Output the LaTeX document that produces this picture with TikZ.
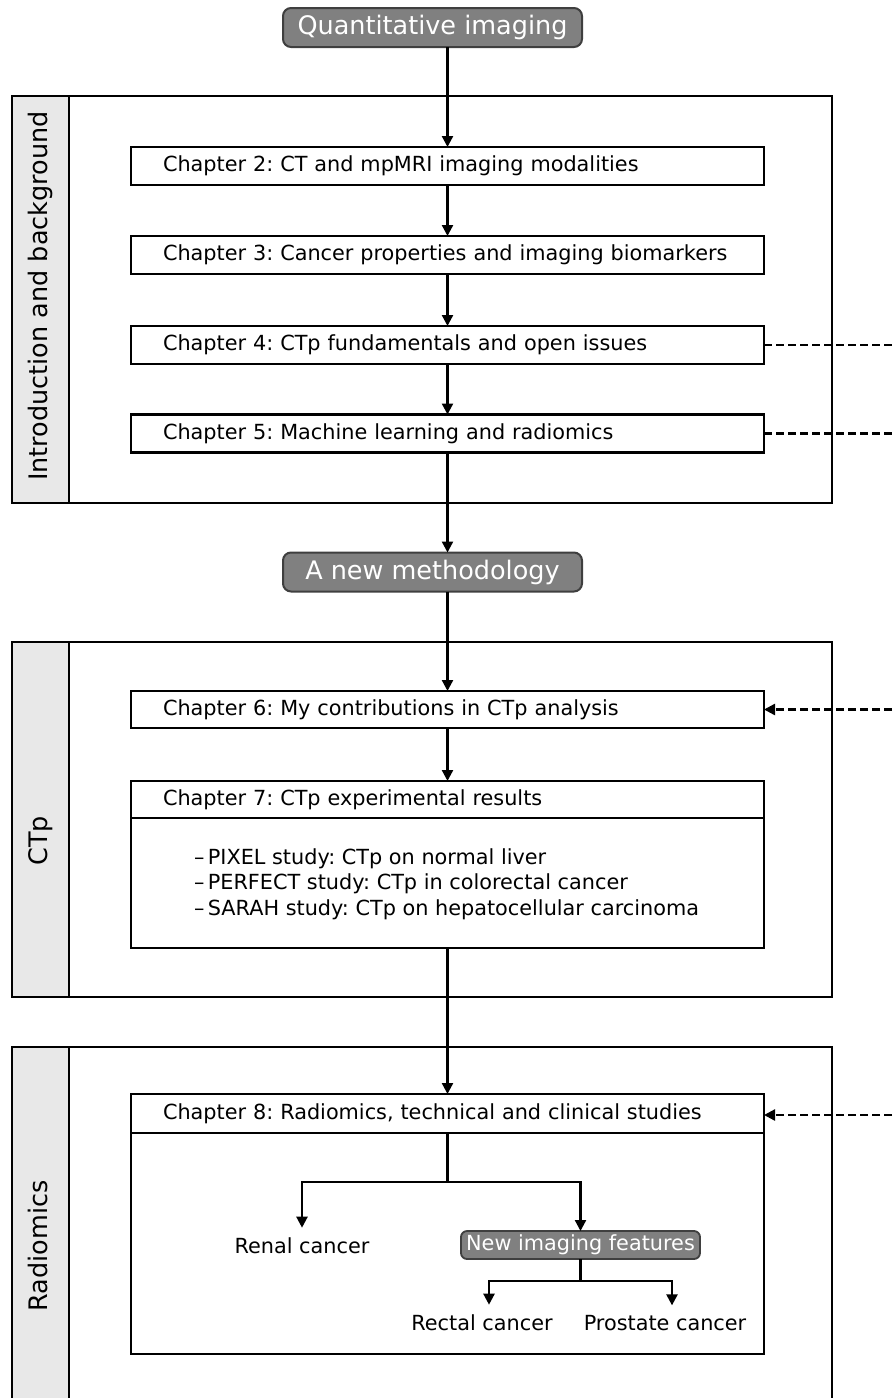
\documentclass[tikz,border=0pt]{standalone}
\usepackage{fontspec}
\setmainfont{DejaVu Sans}
\usetikzlibrary{arrows.meta,calc}
\definecolor{tgray}{HTML}{808080}
\definecolor{tborder}{HTML}{3F3F3F}
\definecolor{stripfill}{HTML}{E8E8E8}
\newcommand{\bigfont}{\fontsize{25.5}{30}\selectfont}
\newcommand{\chfont}{\fontsize{20.8}{25.5}\selectfont\frenchspacing\hyphenpenalty=10000}
\begin{document}
\begin{tikzpicture}[x=1pt,y=-1pt,
  every node/.style={inner sep=0pt,outer sep=0pt},
  secbox/.style={draw,line width=2.3pt,fill=white,anchor=north west,minimum width=820pt},
  stripbox/.style={draw,line width=2.3pt,fill=stripfill,anchor=north west,minimum width=57pt},
  seclabel/.style={rotate=90,anchor=base,font=\bigfont},
  titlebox/.style={draw=tborder,line width=2pt,fill=tgray,rounded corners=8pt,text=white,font=\bigfont,minimum width=299pt,minimum height=39pt},
  chap/.style={draw,line width=2.3pt,fill=white,anchor=north west,text width=569pt,inner xsep=32pt,align=left,font=\chfont,text height=16pt,text depth=5pt,minimum height=38pt},
  bodybox/.style={draw,line width=2.3pt,fill=white,anchor=north west,minimum width=633pt},
  leaf/.style={font=\chfont,anchor=base,inner ysep=9.5pt},
  itemtext/.style={font=\chfont,anchor=base west},
  smallbox/.style={draw=tborder,line width=1.8pt,fill=tgray,rounded corners=6pt,text=white,font=\chfont,minimum width=239pt,minimum height=28pt},
  arr/.style={line width=2.3pt,-{Triangle[length=11pt,width=11pt]}},
  plain/.style={line width=2.3pt},
  dashline/.style={line width=2.3pt,dash pattern=on 8pt off 4pt},
  dasharr/.style={line width=2.3pt,dash pattern=on 8pt off 4pt,-{Triangle[length=11pt,width=11pt]}}
]
\useasboundingbox (0,0) rectangle (892,1398);
\clip (0,0) rectangle (892,1398);
\coordinate (redge) at (892,0);

% sections
\node[secbox,minimum height=407pt] (sec1) at (12,96) {};
\node[stripbox,minimum height=407pt] (strip1) at (12,96) {};
\node[seclabel] (lab1) at (47,296) {Introduction and background};

\node[secbox,minimum height=355pt] (sec2) at (12,642) {};
\node[stripbox,minimum height=355pt] (strip2) at (12,642) {};
\node[seclabel] (lab2) at (47,841) {CTp};

\node[secbox,minimum height=420pt] (sec3) at (12,1047) {};
\node[stripbox,minimum height=420pt] (strip3) at (12,1047) {};
\node[seclabel] (lab3) at (47,1246) {Radiomics};

% titles
\node[titlebox] (qi) at (432.5,27.5) {Quantitative imaging};
\node[titlebox] (nm) at (432.5,572) {A new methodology};

% chapters
\node[chap] (ch2) at (131,147) {Chapter 2: CT and mpMRI imaging modalities};
\node[chap] (ch3) at (131,236) {Chapter 3: Cancer properties and imaging biomarkers};
\node[chap] (ch4) at (131,326) {Chapter 4: CTp fundamentals and open issues};
\node[chap] (ch5) at (131,414.5) {Chapter 5: Machine learning and radiomics};
\node[chap,minimum height=37pt] (ch6) at (131,691) {Chapter 6: My contributions in CTp analysis};

\node[bodybox,minimum height=130pt] (ch7b) at (131,818) {};
\node[chap,minimum height=37pt] (ch7h) at (131,781) {Chapter 7: CTp experimental results};
\node[itemtext] (i1) at (194,864) {–\,PIXEL study: CTp on normal liver};
\node[itemtext] (i2) at (194,889.5) {–\,PERFECT study: CTp in colorectal cancer};
\node[itemtext] (i3) at (194,915) {–\,SARAH study: CTp on hepatocellular carcinoma};

\node[bodybox,minimum height=221pt] (ch8b) at (131,1133) {};
\node[chap,minimum height=39pt] (ch8h) at (131,1094) {Chapter 8: Radiomics, technical and clinical studies};

\node[leaf] (renal) at (302,1253) {Renal cancer};
\node[smallbox] (nif) at (580.5,1245) {New imaging features};
\node[leaf] (rectal) at (482,1330) {Rectal cancer};
\node[leaf] (prostate) at (665,1330) {Prostate cancer};

% main flow
\draw[arr] (ch2.north |- qi.south) -- (ch2.north);
\draw[arr] (ch2.south) -- (ch3.north);
\draw[arr] (ch3.south) -- (ch4.north);
\draw[arr] (ch4.south) -- (ch5.north);
\draw[arr] (ch5.south) -- (ch5.south |- nm.north);
\draw[arr] (ch6.north |- nm.south) -- (ch6.north);
\draw[arr] (ch6.south) -- (ch7h.north);
\draw[arr] (ch7b.south) -- (ch8h.north);

% dashed cross links
\draw[dashline] (ch4.east) -- (ch4.east -| redge);
\draw[dashline] (ch5.east) -- (ch5.east -| redge);
\draw[dasharr] (ch6.east -| redge) -- (ch6.east);
\draw[dasharr] ($(ch8h.east -| redge)+(0,1.5)$) -- ($(ch8h.east)+(0,1.5)$);

% radiomics tree
\coordinate (s1) at (447.5,1182);
\draw[plain] (ch8h.south) -- (s1);
\draw[arr] (s1) -| (renal.north);
\draw[arr] (s1) -| (nif.north);
\coordinate (s2) at (580.5,1281);
\draw[plain] (nif.south) -- (s2);
\draw[arr] (s2) -| ([xshift=7pt]rectal.north);
\draw[arr] (s2) -| ([xshift=7pt]prostate.north);
\end{tikzpicture}
\end{document}
